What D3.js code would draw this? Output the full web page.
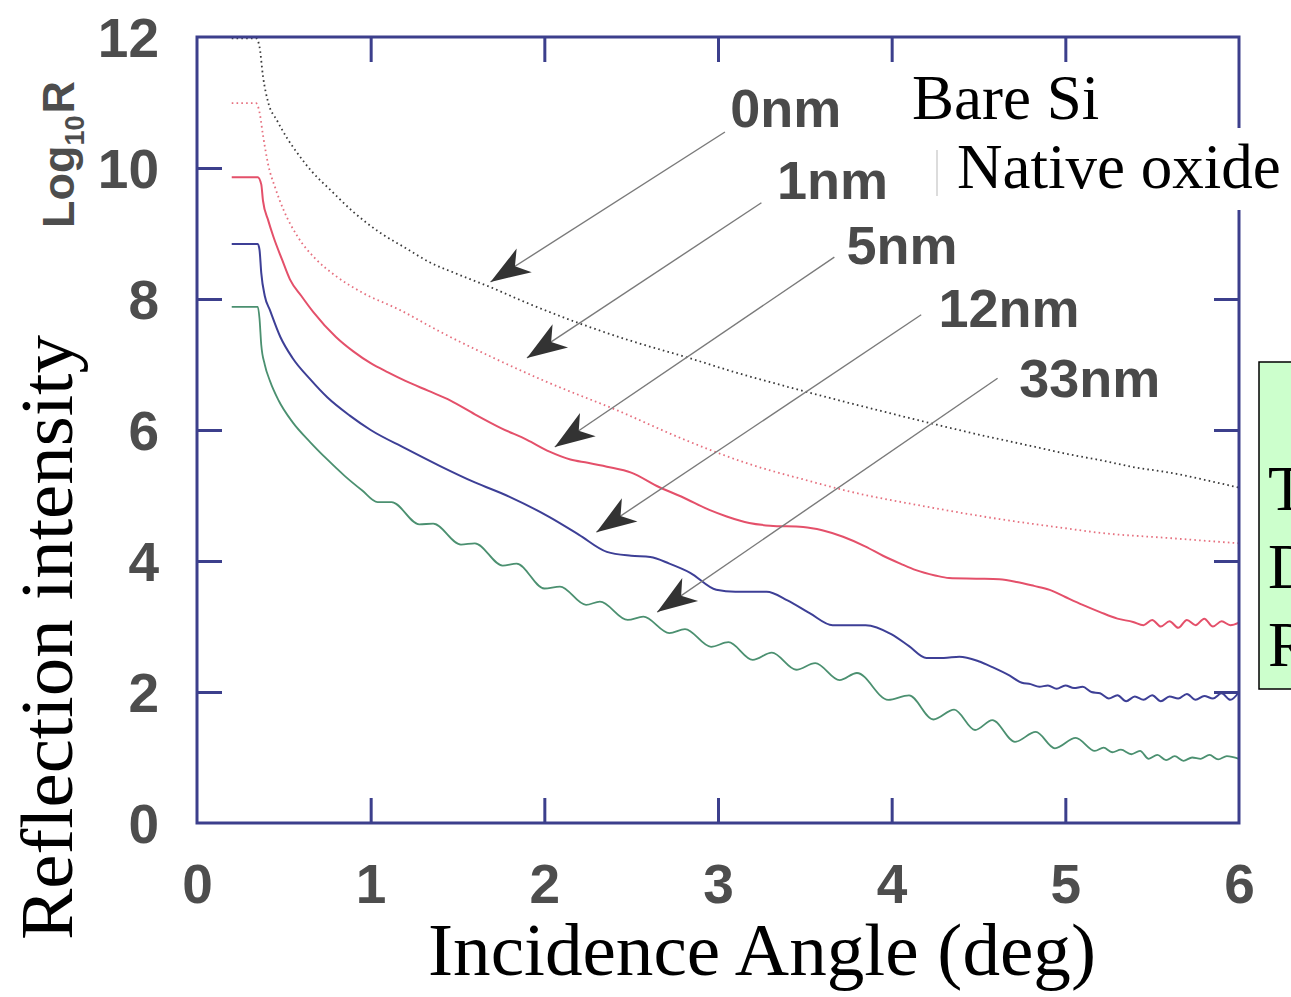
<!DOCTYPE html>
<html>
<head>
<meta charset="utf-8">
<script src="https://cdn.jsdelivr.net/npm/d3@7"></script>
<style>
  body { margin: 0; background: #fff; overflow: hidden; }
  svg { display: block; }
</style>
</head>
<body>
<div id="chart"></div>
<script>
// ---- data: [incidence angle (deg), log10 R] ----
const bareSi = [[0.20,11.98],[0.34,11.98],[0.36,11.85],[0.38,11.4],[0.41,11.0],[0.46,10.73],[0.52,10.45],[0.58,10.22],
  [0.66,9.95],[0.77,9.66],[0.90,9.33],[1.05,9.02],[1.20,8.78],[1.34,8.56],[1.50,8.38],[1.69,8.18],[1.90,7.94],
  [2.20,7.63],[2.50,7.36],[2.82,7.11],[3.10,6.88],[3.40,6.66],[3.76,6.41],[4.00,6.25],[4.23,6.10],[4.50,5.93],
  [4.83,5.74],[5.00,5.64],[5.20,5.54],[5.40,5.43],[5.60,5.35],[5.80,5.24],[6.00,5.12]];

const nativeOxide = [[0.20,10.99],[0.34,10.99],[0.36,10.85],[0.38,10.5],[0.41,10.05],[0.45,9.7],[0.50,9.35],[0.58,8.95],
  [0.68,8.62],[0.80,8.35],[0.95,8.10],[1.17,7.83],[1.40,7.50],[1.70,7.11],[2.00,6.75],[2.42,6.30],[2.80,5.86],
  [3.18,5.48],[3.50,5.24],[3.76,5.06],[4.20,4.83],[4.62,4.64],[5.00,4.50],[5.20,4.43],[5.60,4.35],[6.00,4.27]];

const film5 = [[0.20,9.86],[0.35,9.86],[0.37,9.75],[0.38,9.5],[0.41,9.2],[0.44,8.95],[0.49,8.6],[0.535,8.3],[0.60,8.05],
  [0.67,7.8],[0.80,7.42],[0.90,7.2],[1.00,7.02],[1.10,6.88],[1.20,6.75],[1.33,6.6],[1.46,6.45],[1.60,6.24],
  [1.75,6.03],[1.90,5.85],[2.03,5.67],[2.15,5.55],[2.25,5.5],[2.36,5.44],[2.50,5.35],[2.66,5.13],[2.80,4.97],
  [2.95,4.78],[3.05,4.68],[3.18,4.58],[3.30,4.54],[3.49,4.52],[3.60,4.47],[3.72,4.37],[3.85,4.22],[3.95,4.08],
  [4.05,3.96],[4.14,3.86],[4.25,3.78],[4.33,3.74],[4.50,3.73],[4.62,3.72],[4.72,3.68],[4.82,3.62],[4.91,3.56],
  [5.00,3.45],[5.10,3.33],[5.20,3.22],[5.30,3.12],[5.39,3.07],[5.45,3.02],[5.50,3.10],[5.55,3.00],[5.60,3.08],
  [5.65,2.98],[5.70,3.10],[5.75,3.02],[5.80,3.12],[5.85,3.00],[5.90,3.08],[5.95,3.02],[6.00,3.06]];

const film12 = [[0.20,8.84],[0.35,8.84],[0.36,8.75],[0.37,8.4],[0.39,8.05],[0.42,7.83],[0.48,7.42],[0.55,7.1],[0.65,6.78],
  [0.75,6.5],[0.88,6.22],[1.00,6.0],[1.20,5.72],[1.40,5.45],[1.60,5.2],[1.80,4.98],[2.03,4.67],[2.20,4.4],
  [2.36,4.14],[2.50,4.08],[2.61,4.06],[2.72,3.96],[2.84,3.82],[2.99,3.56],[3.10,3.53],[3.28,3.53],[3.40,3.4],
  [3.53,3.2],[3.66,3.02],[3.85,3.02],[4.00,2.88],[4.10,2.7],[4.20,2.52],[4.30,2.52],[4.39,2.54],[4.50,2.47],
  [4.58,2.38],[4.68,2.25],[4.75,2.14],[4.80,2.12],[4.85,2.08],[4.90,2.10],[4.95,2.05],[5.00,2.10],[5.05,2.06],
  [5.10,2.08],[5.15,2.00],[5.20,1.98],[5.25,1.90],[5.30,1.95],[5.35,1.86],[5.40,1.93],[5.45,1.88],[5.50,1.95],
  [5.55,1.86],[5.60,1.93],[5.65,1.90],[5.70,1.97],[5.75,1.88],[5.80,1.94],[5.85,1.90],[5.90,1.98],[5.95,1.88],[6.00,2.00]];

const film33 = [[0.20,7.88],[0.35,7.88],[0.36,7.7],[0.37,7.3],[0.39,7.0],[0.42,6.75],[0.47,6.45],[0.55,6.12],[0.65,5.82],
  [0.75,5.55],[0.85,5.3],[0.95,5.08],[1.04,4.90],[1.12,4.90],[1.28,4.56],[1.36,4.57],[1.52,4.25],[1.60,4.27],
  [1.76,3.93],[1.84,3.96],[2.00,3.58],[2.09,3.61],[2.24,3.33],[2.32,3.38],[2.48,3.10],[2.57,3.15],[2.72,2.90],
  [2.81,2.96],[2.96,2.69],[3.06,2.76],[3.20,2.49],[3.31,2.60],[3.45,2.34],[3.56,2.44],[3.70,2.18],[3.80,2.29],
  [3.98,1.88],[4.10,1.95],[4.24,1.58],[4.36,1.73],[4.48,1.42],[4.58,1.57],[4.71,1.24],[4.83,1.39],[4.94,1.14],
  [5.06,1.30],[5.17,1.10],[5.22,1.15],[5.27,1.08],[5.32,1.12],[5.38,1.05],[5.43,1.10],[5.48,0.98],[5.53,1.04],
  [5.58,0.96],[5.63,1.02],[5.68,0.95],[5.73,1.00],[5.78,0.98],[5.83,1.04],[5.88,0.97],[5.93,1.02],[6.00,0.98]];

const xTicks = [0, 1, 2, 3, 4, 5, 6];
const yTicks = [0, 2, 4, 6, 8, 10, 12];
const seriesNames = ["0nm", "1nm", "5nm", "12nm", "33nm"];
// label anchor, arrow start, arrow tip (data units)
const labelAt   = [[3.07,10.62],[3.34,9.53],[3.74,8.54],[4.27,7.57],[4.735,6.5]];
const arrowFrom = [[3.04,10.55],[3.25,9.47],[3.67,8.64],[4.17,7.76],[4.61,6.79]];
const arrowTo   = [[1.69,8.26],[1.90,7.10],[2.06,5.74],[2.30,4.44],[2.65,3.22]];
const sideNotes = ["T", "D", "R"];

// ---- layout ----
const width = 1291, height = 997;
const navy = "#3c3f8c";
const tickGray = "#4d4d4d";

const svg = d3.select("#chart").append("svg")
    .attr("width", width)
    .attr("height", height);

const x = d3.scaleLinear().domain([0, 6]).range([197, 1239]);
const y = d3.scaleLinear().domain([0, 12]).range([823, 37]);

const line = d3.line()
    .x(d => x(d[0]))
    .y(d => y(d[1]))
    .curve(d3.curveMonotoneX);

// curves
const series = [
    {data: bareSi, color: "#3a3a3a", dash: "1.6,3.2", w: 1.8},
    {data: nativeOxide, color: "#e6707f", dash: "1.6,3.2", w: 1.8},
    {data: film5, color: "#e4506a", dash: null, w: 2},
    {data: film12, color: "#3d3f96", dash: null, w: 2},
    {data: film33, color: "#4b9070", dash: null, w: 1.8}
];

svg.append("g").selectAll("path")
    .data(series)
    .enter()
    .append("path")
    .attr("d", d => line(d.data))
    .attr("fill", "none")
    .attr("stroke", d => d.color)
    .attr("stroke-width", d => d.w)
    .attr("stroke-dasharray", d => d.dash)
    .attr("stroke-linejoin", "round");

// frame + inward ticks
svg.append("rect")
    .attr("x", x(0)).attr("y", y(12))
    .attr("width", x(6) - x(0)).attr("height", y(0) - y(12))
    .attr("fill", "none")
    .attr("stroke", navy)
    .attr("stroke-width", 3);

const inner = [
    {axis: d3.axisBottom(x).tickValues([1,2,3,4,5]), t: `translate(0,${y(0)})`},
    {axis: d3.axisTop(x).tickValues([1,2,3,4,5]), t: `translate(0,${y(12)})`},
    {axis: d3.axisLeft(y).tickValues([2,4,6,8,10]), t: `translate(${x(0)},0)`},
    {axis: d3.axisRight(y).tickValues([2,4,6,8,10]), t: `translate(${x(6)},0)`}
];
inner.forEach(a => {
    const g = svg.append("g")
        .attr("transform", a.t)
        .call(a.axis.tickSizeInner(-25).tickSizeOuter(0).tickFormat(""));
    g.select(".domain").remove();
    g.selectAll("line").attr("stroke", navy).attr("stroke-width", 3);
});

// tick labels
const xLab = svg.append("g")
    .attr("transform", `translate(0,${y(0)})`)
    .call(d3.axisBottom(x).tickValues(xTicks).tickSize(0).tickFormat(d3.format("d")));
xLab.select(".domain").remove();
xLab.selectAll("text")
    .attr("y", 80).attr("dy", 0)
    .style("font-family", "'Liberation Sans', Arial, sans-serif")
    .style("font-weight", "bold")
    .style("font-size", "55px")
    .attr("fill", tickGray);

const yLab = svg.append("g")
    .attr("transform", `translate(${x(0)},0)`)
    .call(d3.axisLeft(y).tickValues(yTicks).tickSize(0).tickPadding(38).tickFormat(d3.format("d")));
yLab.select(".domain").remove();
yLab.selectAll("text")
    .attr("dy", "0.36em")
    .style("font-family", "'Liberation Sans', Arial, sans-serif")
    .style("font-weight", "bold")
    .style("font-size", "55px")
    .attr("fill", tickGray);

// Log10 R (part of the original figure)
const logR = svg.append("text")
    .attr("transform", "translate(74,228) rotate(-90)")
    .style("font-family", "'Liberation Sans', Arial, sans-serif")
    .style("font-weight", "bold")
    .style("font-size", "45px")
    .attr("fill", tickGray);
logR.append("tspan").text("Log");
logR.append("tspan").attr("dy", 10).style("font-size", "27px").text("10");
logR.append("tspan").attr("dy", -10).attr("dx", 2).text("R");

// arrows
const arrows = svg.append("g");
seriesNames.forEach((name, i) => {
    const x0 = x(arrowFrom[i][0]), y0 = y(arrowFrom[i][1]);
    const x1 = x(arrowTo[i][0]), y1 = y(arrowTo[i][1]);
    const ang = Math.atan2(y1 - y0, x1 - x0) * 180 / Math.PI;
    arrows.append("line")
        .attr("x1", x0).attr("y1", y0)
        .attr("x2", x1).attr("y2", y1)
        .attr("stroke", "#7a7a7a")
        .attr("stroke-width", 1.4);
    arrows.append("path")
        .attr("d", "M0,0 L-40,-14 L-29,0 L-40,14 Z")
        .attr("transform", `translate(${x1},${y1}) rotate(${ang})`)
        .attr("fill", "#333");
    svg.append("text")
        .attr("x", x(labelAt[i][0]))
        .attr("y", y(labelAt[i][1]))
        .style("font-family", "'Liberation Sans', Arial, sans-serif")
        .style("font-weight", "bold")
        .style("font-size", "54px")
        .attr("fill", "#4a4a4a")
        .text(name);
});

// overlay boxes (slide annotations)
svg.append("rect")
    .attr("x", 892).attr("y", 66).attr("width", 332).attr("height", 62)
    .attr("fill", "#fff");
svg.append("rect")
    .attr("x", 935).attr("y", 128).attr("width", 360).attr("height", 82)
    .attr("fill", "#fff");
svg.append("line")
    .attr("x1", 937).attr("y1", 150).attr("x2", 937).attr("y2", 196)
    .attr("stroke", "#d0d0d0").attr("stroke-width", 1.5);

const serif = "'Liberation Serif', 'Times New Roman', serif";
svg.append("text")
    .attr("x", 912).attr("y", 119)
    .style("font-family", serif).style("font-size", "63px")
    .text("Bare Si");
svg.append("text")
    .attr("x", 957).attr("y", 188)
    .style("font-family", serif).style("font-size", "63px")
    .text("Native oxide");

svg.append("rect")
    .attr("x", 1259).attr("y", 362).attr("width", 60).attr("height", 327)
    .attr("fill", "#ccffcc")
    .attr("stroke", "#000")
    .attr("stroke-width", 1.5);
svg.append("g").selectAll("text")
    .data(sideNotes)
    .enter()
    .append("text")
    .attr("x", 1268)
    .attr("y", (d, i) => 510 + i * 78)
    .style("font-family", serif).style("font-size", "63px")
    .text(d => d);

// axis titles
svg.append("text")
    .attr("x", 428).attr("y", 975)
    .attr("textLength", 668)
    .attr("lengthAdjust", "spacingAndGlyphs")
    .style("font-family", serif).style("font-size", "73px")
    .text("Incidence Angle (deg)");
svg.append("text")
    .attr("transform", "translate(72,940) rotate(-90)")
    .attr("textLength", 605)
    .attr("lengthAdjust", "spacingAndGlyphs")
    .style("font-family", serif).style("font-size", "74px")
    .text("Reflection intensity");
</script>
</body>
</html>
